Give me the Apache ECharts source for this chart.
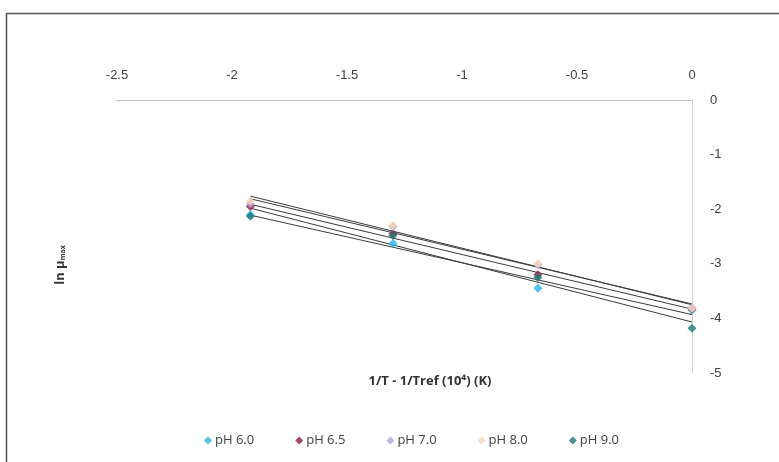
<!DOCTYPE html>
<html>
<head>
<meta charset="utf-8">
<script src="https://cdn.jsdelivr.net/npm/echarts@6/dist/echarts.min.js"></script>
<style>
  html, body { margin: 0; padding: 0; background: #fff; }
  #chart { width: 779px; height: 462px; }
</style>
</head>
<body>
<div id="chart"></div>
<script>
// Arrhenius-type plot: ln(mu_max) against 1/T - 1/Tref for five pH levels
const xValues = [-1.92, -1.30, -0.67, 0];
const seriesNames = ['pH 6.0', 'pH 6.5', 'pH 7.0', 'pH 8.0', 'pH 9.0'];
const ph60 = [-2.10, -2.63, -3.45, -3.85];
const ph65 = [-1.95, -2.45, -3.20, -3.83];
const ph70 = [-1.90, -2.32, -3.02, -3.80];
const ph80 = [-1.85, -2.30, -3.00, -3.82];
const ph90 = [-2.13, -2.48, -3.25, -4.18];
const seriesValues = [ph60, ph65, ph70, ph80, ph90];
const colors = ['#22B4E6', '#8E1B3E', '#ABA6D6', '#F6D5B6', '#1C7B74'];
const xTicks = [-2.5, -2, -1.5, -1, -0.5, 0];
const yTicks = [0, -1, -2, -3, -4, -5];

// least-squares trend line through one series
function trend(xs, ys) {
  const n = xs.length;
  const mx = xs.reduce((a, b) => a + b, 0) / n;
  const my = ys.reduce((a, b) => a + b, 0) / n;
  let sxy = 0, sxx = 0;
  for (let i = 0; i < n; i++) { sxy += (xs[i] - mx) * (ys[i] - my); sxx += (xs[i] - mx) ** 2; }
  const k = sxy / sxx, b = my - k * mx;
  const x0 = Math.min(...xs), x1 = Math.max(...xs);
  return [[x0, k * x0 + b], [x1, k * x1 + b]];
}

const series = [];
seriesValues.forEach((vals, i) => {
  series.push({
    type: 'line',
    data: trend(xValues, vals),
    showSymbol: false,
    silent: true,
    lineStyle: { color: '#3a3a3a', width: 1 },
    z: 2
  });
});
seriesValues.forEach((vals, i) => {
  series.push({
    name: seriesNames[i],
    type: 'scatter',
    symbol: 'diamond',
    symbolSize: 9,
    data: xValues.map((x, j) => [x, vals[j]]),
    itemStyle: { color: colors[i] },
    z: 5 + i
  });
});

const chart = echarts.init(document.getElementById('chart'));
chart.setOption({
  animation: false,
  backgroundColor: '#fff',
  grid: { left: 117, right: 87, top: 100, bottom: 89, containLabel: false },
  xAxis: {
    type: 'value',
    position: 'top',
    min: -2.5, max: 0, interval: 0.5,
    axisLine: { onZero: false, lineStyle: { color: '#BFBFBF', width: 1 } },
    axisTick: { show: false },
    splitLine: { show: false },
    axisLabel: {
      color: '#404040', fontFamily: 'Liberation Sans', fontSize: 13, margin: 18,
      formatter: v => String(v)
    }
  },
  yAxis: {
    type: 'value',
    position: 'right',
    min: -5, max: 0, interval: 1,
    axisLine: { show: true, onZero: false, lineStyle: { color: '#D0D0D0', width: 1 } },
    axisTick: { show: false },
    splitLine: { show: false },
    axisLabel: {
      color: '#404040', fontFamily: 'Liberation Sans', fontSize: 13, margin: 18,
      formatter: v => String(v)
    }
  },
  legend: {
    data: seriesNames,
    left: 199, top: 429,
    icon: 'diamond',
    itemWidth: 8, itemHeight: 8, itemGap: 41,
    textStyle: { color: '#404040', fontFamily: 'Open Sans', fontSize: 13, padding: [0, 0, 0, -2] }
  },
  graphic: [
    {
      type: 'rect',
      shape: { x: 6.5, y: 13.5, width: 900, height: 600 },
      style: { fill: 'none', stroke: '#555', lineWidth: 1.5 },
      silent: true, z: -10
    },
    {
      type: 'text',
      x: 430, y: 381,
      style: {
        text: '1/T - 1/Tref (10\u2074) (K)',
        font: 'bold 13px "Open Sans"',
        fill: '#333',
        align: 'center', verticalAlign: 'middle'
      }
    },
    {
      type: 'text',
      x: 60, y: 265,
      rotation: Math.PI / 2,
      style: {
        text: '{a|ln \u03bc}{b|max}',
        align: 'center', verticalAlign: 'middle',
        rich: {
          a: { font: 'bold 13px "Open Sans"', fill: '#333', verticalAlign: 'bottom' },
          b: { font: 'bold 7px "Open Sans"', fill: '#333', verticalAlign: 'bottom', padding: [4, 0, 0, 0] }
        }
      }
    }
  ],
  series: series
});
</script>
</body>
</html>
